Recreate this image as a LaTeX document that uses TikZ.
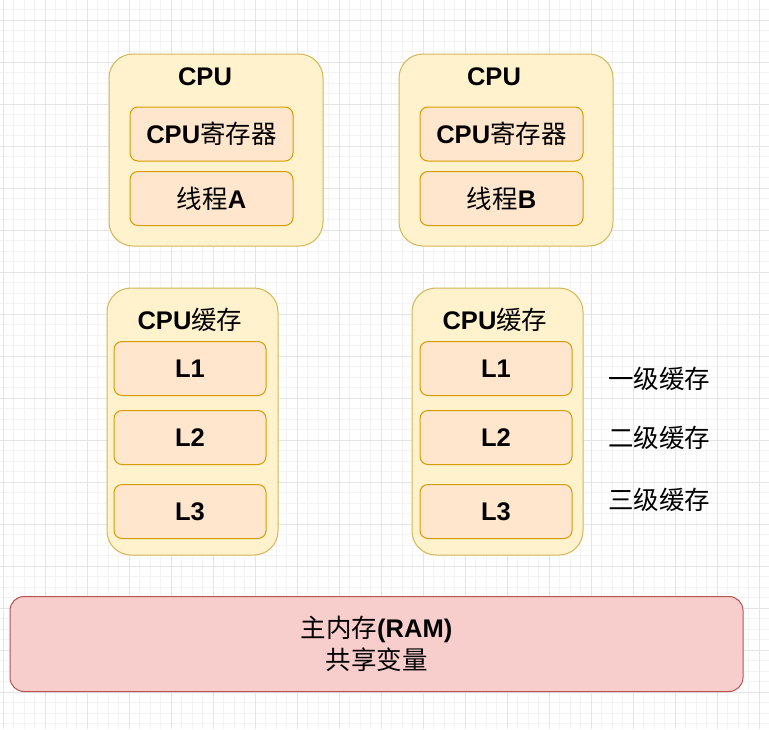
\documentclass[tikz,border=0pt]{standalone}
\usepackage{fontspec}
\setmainfont{Liberation Sans}
\newfontfamily\cjk{Noto Sans CJK SC}
\newcommand{\zh}[1]{{\cjk #1}}
\definecolor{cpufill}{HTML}{FFF2CC}
\definecolor{cpudraw}{HTML}{D6B656}
\definecolor{innfill}{HTML}{FFE6CC}
\definecolor{inndraw}{HTML}{D79B00}
\definecolor{ramfill}{HTML}{F8CECC}
\definecolor{ramdraw}{HTML}{B85450}
\definecolor{gridminor}{HTML}{F3F3F3}
\definecolor{gridmajor}{HTML}{E4E4E4}
\tikzset{
  outerbox/.style={draw=cpudraw, fill=cpufill, line width=1pt, rounded corners=#1},
  innerbox/.style={draw=inndraw, fill=innfill, line width=1pt, rounded corners=8pt,
    minimum width=163pt, minimum height=54pt, inner sep=0pt, font=\fontsize{25.5}{30}\selectfont},
  ttl/.style={inner sep=0pt, font=\fontsize{25.5}{30}\selectfont},
  ramstyle/.style={draw=ramdraw, fill=ramfill, line width=1pt, rounded corners=14pt,
    minimum width=733pt, minimum height=95pt, inner sep=0pt, align=center,
    font=\fontsize{25.5}{32}\selectfont},
}
\begin{document}
\begin{tikzpicture}[x=1pt,y=-1pt]
\useasboundingbox (0,0) rectangle (769,729);
\fill[white] (0,0) rectangle (769,729);
% grid
\foreach \i in {0,...,73} {
  \pgfmathsetmacro{\gx}{3+10.5*\i}
  \draw[gridminor, line width=0.8pt] (\gx,0) -- (\gx,729);
}
\foreach \i in {0,...,70} {
  \pgfmathsetmacro{\gy}{-1+10.5*\i}
  \draw[gridminor, line width=0.8pt] (0,\gy) -- (769,\gy);
}
\foreach \i in {0,...,18} {
  \pgfmathsetmacro{\gx}{3+42*\i}
  \draw[gridmajor, line width=0.8pt] (\gx,0) -- (\gx,729);
}
\foreach \i in {0,...,17} {
  \pgfmathsetmacro{\gy}{20+42*\i}
  \draw[gridmajor, line width=0.8pt] (0,\gy) -- (769,\gy);
}
% CPU A
\draw[outerbox=24pt] (109,54) rectangle (323,246);
\node[ttl] (cpuAt) at (205,77) {\textbf{CPU}};
\node[innerbox] (regA) at (211.5,134) {\textbf{CPU}\zh{寄存器}};
\node[innerbox] (thrA) at (211.5,198.5) {\zh{线程}\textbf{A}};
% CPU B
\draw[outerbox=24pt] (399,54) rectangle (613,246);
\node[ttl] (cpuBt) at (494,77) {\textbf{CPU}};
\node[innerbox] (regB) at (501.5,134) {\textbf{CPU}\zh{寄存器}};
\node[innerbox] (thrB) at (501.5,198.5) {\zh{线程}\textbf{B}};
% Cache A
\draw[outerbox=24pt] (107,288) rectangle (278,555);
\node[ttl] (cacheAt) at (190,320) {\textbf{CPU}\zh{缓存}};
\node[innerbox, minimum width=152pt] (l1A) at (190,368.5) {\textbf{L1}};
\node[innerbox, minimum width=152pt] (l2A) at (190,437.5) {\textbf{L2}};
\node[innerbox, minimum width=152pt] (l3A) at (190,511.5) {\textbf{L3}};
% Cache B
\draw[outerbox=24pt] (412,288) rectangle (583,555);
\node[ttl] (cacheBt) at (495,320) {\textbf{CPU}\zh{缓存}};
\node[innerbox, minimum width=152pt] (l1B) at (496,368.5) {\textbf{L1}};
\node[innerbox, minimum width=152pt] (l2B) at (496,437.5) {\textbf{L2}};
\node[innerbox, minimum width=152pt] (l3B) at (496,511.5) {\textbf{L3}};
% level labels
\node[ttl] (lab1) at (659,379) {\zh{一级缓存}};
\node[ttl] (lab2) at (659,438) {\zh{二级缓存}};
\node[ttl] (lab3) at (659,500) {\zh{三级缓存}};
% RAM
\node[ramstyle] (ram) at (376.5,644) {\zh{主内存}\textbf{(RAM)}\\\zh{共享变量}};
\end{tikzpicture}
\end{document}
